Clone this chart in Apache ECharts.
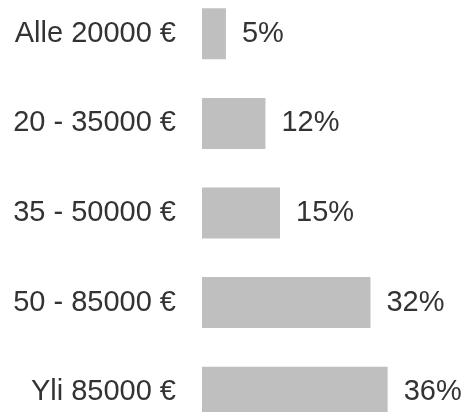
<!DOCTYPE html>
<html>
<head>
<meta charset="utf-8">
<script src="https://cdn.jsdelivr.net/npm/echarts@6/dist/echarts.min.js"></script>
<style>
  html, body { margin: 0; padding: 0; background: #fff; overflow: hidden; }
  /* chart is taller than the window: the last bar is cut off at the bottom */
  #chart { width: 464px; height: 448px; margin-top: -11px; }
</style>
</head>
<body>
<div id="chart"></div>
<script>
// income brackets and share of respondents (%)
const categories = ['Alle 20000 €', '20 - 35000 €', '35 - 50000 €', '50 - 85000 €', 'Yli 85000 €']
const shares = [4.6, 12.2, 15, 32.4, 35.7]

const chart = echarts.init(document.getElementById('chart'))
chart.setOption({
  animation: false,
  textStyle: { fontFamily: 'Liberation Sans, Arial, sans-serif' },
  grid: { left: 202, right: 2, top: 0, bottom: 0, containLabel: false },
  xAxis: {
    type: 'value',
    min: 0,
    max: 50,
    show: false
  },
  yAxis: {
    type: 'category',
    inverse: true,
    data: categories,
    axisLine: { show: false },
    axisTick: { show: false },
    axisLabel: {
      margin: 26,
      fontSize: 29,
      color: '#333'
    }
  },
  series: [
    {
      type: 'bar',
      data: shares,
      barWidth: 51,
      itemStyle: { color: '#bfbfbf' },
      label: {
        show: true,
        position: 'right',
        distance: 16,
        fontSize: 29,
        color: '#333',
        formatter: (p) => Math.round(p.value) + '%'
      }
    }
  ]
})
</script>
</body>
</html>
